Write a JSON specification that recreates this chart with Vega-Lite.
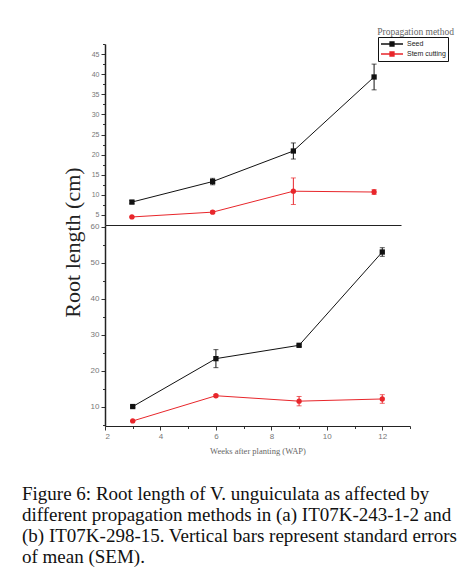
{
  "$schema": "https://vega.github.io/schema/vega-lite/v6.json",
  "background": "white",
  "padding": {"left": 22, "top": 26, "right": 5, "bottom": 5},
  "spacing": 0,
  "bounds": "flush",
  "datasets": {
    "roots": [
      {"panel": "a", "method": "Seed", "week": 3, "mean": 8.2, "lo": 7.8, "hi": 8.6},
      {"panel": "a", "method": "Seed", "week": 6, "mean": 13.3, "lo": 12.5, "hi": 14.1},
      {"panel": "a", "method": "Seed", "week": 9, "mean": 20.9, "lo": 18.9, "hi": 22.9},
      {"panel": "a", "method": "Seed", "week": 12, "mean": 39.3, "lo": 36.1, "hi": 42.5},
      {"panel": "a", "method": "Stem cutting", "week": 3, "mean": 4.5, "lo": 4.5, "hi": 4.5},
      {"panel": "a", "method": "Stem cutting", "week": 6, "mean": 5.7, "lo": 5.4, "hi": 6.0},
      {"panel": "a", "method": "Stem cutting", "week": 9, "mean": 10.9, "lo": 7.6, "hi": 14.2},
      {"panel": "a", "method": "Stem cutting", "week": 12, "mean": 10.7, "lo": 10.1, "hi": 11.3},
      {"panel": "b", "method": "Seed", "week": 3, "mean": 10.1, "lo": 9.8, "hi": 10.4},
      {"panel": "b", "method": "Seed", "week": 6, "mean": 23.4, "lo": 20.9, "hi": 25.9},
      {"panel": "b", "method": "Seed", "week": 9, "mean": 27.1, "lo": 26.8, "hi": 27.4},
      {"panel": "b", "method": "Seed", "week": 12, "mean": 53.0, "lo": 51.8, "hi": 54.2},
      {"panel": "b", "method": "Stem cutting", "week": 3, "mean": 6.1, "lo": 6.1, "hi": 6.1},
      {"panel": "b", "method": "Stem cutting", "week": 6, "mean": 13.1, "lo": 12.8, "hi": 13.4},
      {"panel": "b", "method": "Stem cutting", "week": 9, "mean": 11.6, "lo": 10.3, "hi": 12.9},
      {"panel": "b", "method": "Stem cutting", "week": 12, "mean": 12.2, "lo": 11.0, "hi": 13.4}
    ]
  },
  "title": {
    "text": [
      "Figure 6: Root length of V. unguiculata as affected by",
      "different propagation methods in (a) IT07K-243-1-2 and",
      "(b) IT07K-298-15. Vertical bars represent standard errors",
      "of mean (SEM)."
    ],
    "orient": "bottom",
    "anchor": "start",
    "frame": "bounds",
    "font": "Liberation Serif",
    "fontSize": 19,
    "fontWeight": "normal",
    "color": "#111111",
    "lineHeight": 21,
    "offset": 30,
    "dx": -39
  },
  "vconcat": [
    {
      "width": 296,
      "height": 181,
      "title": {
        "text": "Propagation method",
        "anchor": "end",
        "orient": "top",
        "font": "Liberation Serif",
        "fontSize": 9.5,
        "fontWeight": "normal",
        "color": "#666666",
        "dx": 53,
        "offset": 4
      },
      "data": {"name": "roots"},
      "transform": [{"filter": "datum.panel === 'a'"}],
      "encoding": {
        "x": {
          "field": "week", "type": "quantitative",
          "scale": {"domain": [2, 13], "nice": false, "zero": false},
          "axis": {"labels": false, "ticks": false, "title": null, "domainWidth": 1.2}
        },
        "y": {
          "field": "mean", "type": "quantitative",
          "scale": {"domain": [2.5, 47.5], "nice": false, "zero": false},
          "axis": {
            "title": null,
            "values": [5, 7.5, 10, 12.5, 15, 17.5, 20, 22.5, 25, 27.5, 30, 32.5, 35, 37.5, 40, 42.5, 45, 47.5],
            "labelExpr": "datum.value % 5 === 0 ? datum.label : ''",
            "labelOverlap": false,
            "labelFontSize": 7,
            "tickSize": {"condition": {"test": "datum.value % 5 === 0", "value": 4}, "value": 2.5},
            "domainWidth": 1.5
          }
        }
      },
      "layer": [
        {
          "mark": {"type": "line", "strokeWidth": 1},
          "encoding": {
            "color": {
              "field": "method", "type": "nominal",
              "scale": {"domain": ["Seed", "Stem cutting"], "range": ["#111111", "#e8262b"]},
              "legend": {
                "orient": "none", "legendX": 273, "legendY": -7,
                "title": null,
                "strokeColor": "#111111",
                "padding": 2,
                "labelFontSize": 7,
                "labelFont": "Liberation Sans",
                "labelColor": "#222222",
                "symbolType": "M-2.75,0H2.75M-0.5,-0.5H0.5V0.5H-0.5Z",
                "symbolStrokeWidth": 1.3,
                "symbolSize": 64,
                "symbolOffset": 7,
                "rowPadding": 0,
                "labelOffset": 10
              }
            }
          }
        },
        {
          "mark": {"type": "errorbar", "ticks": {"size": 5}, "thickness": 1},
          "encoding": {
            "y": {"field": "lo", "type": "quantitative", "title": null},
            "y2": {"field": "hi"},
            "color": {"field": "method", "type": "nominal", "legend": null}
          }
        },
        {
          "transform": [{"filter": "datum.method === 'Seed'"}],
          "mark": {"type": "point", "shape": "square", "filled": true, "opacity": 1, "size": 28},
          "encoding": {"color": {"field": "method", "type": "nominal", "legend": null}}
        },
        {
          "transform": [{"filter": "datum.method === 'Stem cutting'"}],
          "mark": {"type": "point", "shape": "circle", "filled": true, "opacity": 1, "size": 28},
          "encoding": {"color": {"field": "method", "type": "nominal", "legend": null}}
        },
        {
          "data": {"values": [{}]},
          "mark": {"type": "text", "text": "(a) IT07K-243-1-2", "align": "left", "baseline": "middle", "font": "Liberation Serif", "fontSize": 9, "color": "#555555"},
          "encoding": {"x": {"datum": 3.4}, "y": {"datum": 33}}
        }
      ]
    },
    {
      "width": 305,
      "height": 201,
      "data": {"name": "roots"},
      "transform": [{"filter": "datum.panel === 'b'"}],
      "encoding": {
        "x": {
          "field": "week", "type": "quantitative",
          "scale": {"domain": [2, 13], "nice": false, "zero": false},
          "axis": {
            "title": "Weeks after planting (WAP)",
            "values": [2, 3, 4, 5, 6, 7, 8, 9, 10, 11, 12, 13],
            "labelExpr": "datum.value % 2 === 0 ? datum.label : ''",
            "labelOverlap": false,
            "tickSize": {"condition": {"test": "datum.value % 2 === 0", "value": 4}, "value": 2.5},
            "labelFontSize": 8,
            "titleFont": "Liberation Serif",
            "titleFontSize": 8.5,
            "titleFontWeight": "normal",
            "titleColor": "#666666",
            "titlePadding": 6,
            "domainWidth": 1.2
          }
        },
        "y": {
          "field": "mean", "type": "quantitative",
          "scale": {"domain": [4.7, 60.5], "nice": false, "zero": false},
          "axis": {
            "title": "Root length (cm)",
            "titleFont": "Liberation Serif",
            "titleFontSize": 22,
            "titleFontWeight": "normal",
            "titleColor": "#222222",
            "titleAngle": -90,
            "titleAlign": "center",
            "titleBaseline": "middle",
            "titleX": -33,
            "titleY": 17,
            "values": [5, 10, 15, 20, 25, 30, 35, 40, 45, 50, 55, 60],
            "labelExpr": "datum.value % 10 === 0 ? datum.label : ''",
            "labelOverlap": false,
            "tickSize": {"condition": {"test": "datum.value % 10 === 0", "value": 4}, "value": 2.5},
            "labelFontSize": 8,
            "domainWidth": 1.5
          }
        }
      },
      "layer": [
        {
          "mark": {"type": "line", "strokeWidth": 1},
          "encoding": {"color": {"field": "method", "type": "nominal", "legend": null}}
        },
        {
          "mark": {"type": "errorbar", "ticks": {"size": 5}, "thickness": 1},
          "encoding": {
            "y": {"field": "lo", "type": "quantitative", "title": "Root length (cm)"},
            "y2": {"field": "hi"},
            "color": {"field": "method", "type": "nominal", "legend": null}
          }
        },
        {
          "transform": [{"filter": "datum.method === 'Seed'"}],
          "mark": {"type": "point", "shape": "square", "filled": true, "opacity": 1, "size": 28},
          "encoding": {"color": {"field": "method", "type": "nominal", "legend": null}}
        },
        {
          "transform": [{"filter": "datum.method === 'Stem cutting'"}],
          "mark": {"type": "point", "shape": "circle", "filled": true, "opacity": 1, "size": 28},
          "encoding": {"color": {"field": "method", "type": "nominal", "legend": null}}
        },
        {
          "data": {"values": [{}]},
          "mark": {"type": "text", "text": "(b) IT07K-298-15", "align": "left", "baseline": "middle", "font": "Liberation Serif", "fontSize": 10, "color": "#555555"},
          "encoding": {"x": {"datum": 3.35}, "y": {"datum": 47.2}}
        }
      ]
    }
  ],
  "resolve": {"scale": {"color": "shared"}},
  "config": {
    "view": {"stroke": null},
    "axis": {
      "grid": false,
      "domainColor": "#222222",
      "tickColor": "#333333",
      "labelColor": "#777777",
      "labelFont": "Liberation Sans",
      "labelPadding": 2
    }
  }
}
